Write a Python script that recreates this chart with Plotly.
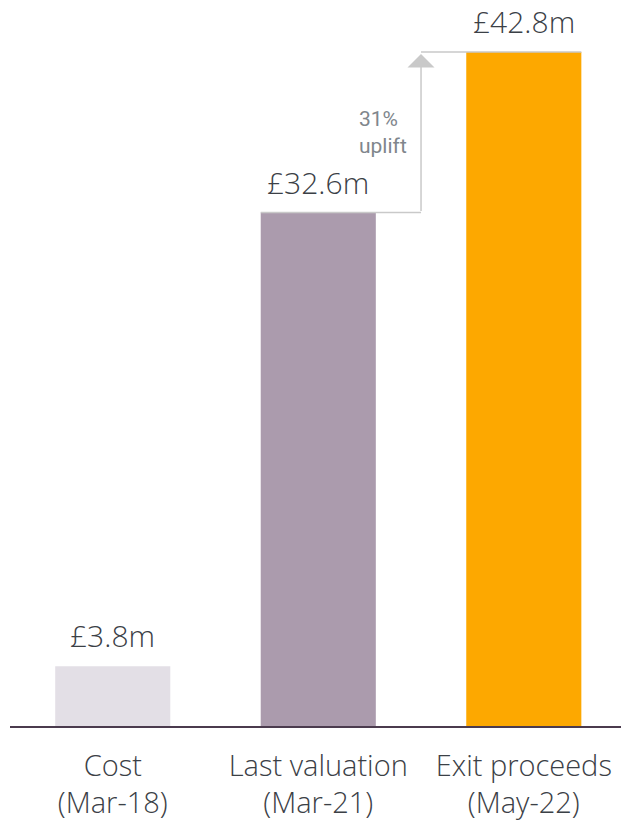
import plotly.graph_objects as go

# Investment journey: cost, last valuation and exit proceeds (£m)
categories = ["Cost<br>(Mar-18)", "Last valuation<br>(Mar-21)", "Exit proceeds<br>(May-22)"]
values = [3.8, 32.6, 42.8]
bar_colors = ["#e3dfe6", "#ab9bad", "#fda800"]
uplift_text = "31%<br>uplift"

LIGHT_FONT = "Open Sans"
TEXT_DARK = "#3b4046"
GUIDE = "#c9c9c9"
BAR_WIDTH = 0.56

fig = go.Figure(
    go.Bar(
        x=categories,
        y=values,
        marker=dict(color=bar_colors, line=dict(width=0)),
        width=BAR_WIDTH,
        hoverinfo="skip",
    )
)

# value labels above each bar
for cat, val in zip(categories, values):
    fig.add_annotation(
        x=cat, y=val, text=f"£{val:.1f}m", showarrow=False,
        yanchor="bottom", yshift=8,
        font=dict(family=LIGHT_FONT, size=30, color=TEXT_DARK, weight=300),
    )

# uplift connector: from the top of the valuation bar up to the exit bar
mid = 1.5
left_edge = 1 - BAR_WIDTH / 2
right_edge = 2 + BAR_WIDTH / 2
fig.add_shape(type="line", xref="x", yref="y", x0=left_edge, x1=mid,
              y0=values[1], y1=values[1], line=dict(color=GUIDE, width=1.5), layer="above")
fig.add_shape(type="line", xref="x", yref="y", x0=mid, x1=right_edge,
              y0=values[2], y1=values[2], line=dict(color=GUIDE, width=1.5), layer="above")
fig.add_annotation(
    x=mid, y=values[2], ax=mid, ay=values[1], xref="x", yref="y", axref="x", ayref="y",
    text="", showarrow=True, arrowhead=1, arrowsize=3, arrowwidth=1.5,
    arrowcolor=GUIDE, standoff=2,
)
fig.add_annotation(
    x=mid, y=(values[1] + values[2]) / 2, text=uplift_text, showarrow=False,
    xanchor="right", align="left", xshift=-12,
    font=dict(family="Roboto", size=21, color="#80868c"),
)

fig.update_layout(
    width=621, height=820,
    margin=dict(l=10, r=0, t=0, b=94),
    paper_bgcolor="white", plot_bgcolor="white",
    showlegend=False,
    bargap=0.44,
    xaxis=dict(
        range=[-0.5, 2.473], showgrid=False, zeroline=False,
        showline=True, linecolor="#4b3b4e", linewidth=1.5,
        ticks="", ticklabelstandoff=13,
        tickfont=dict(family=LIGHT_FONT, size=29, color=TEXT_DARK, weight=300),
    ),
    yaxis=dict(range=[0, 46.1], visible=False, fixedrange=True),
)

fig.write_html("out.html")
